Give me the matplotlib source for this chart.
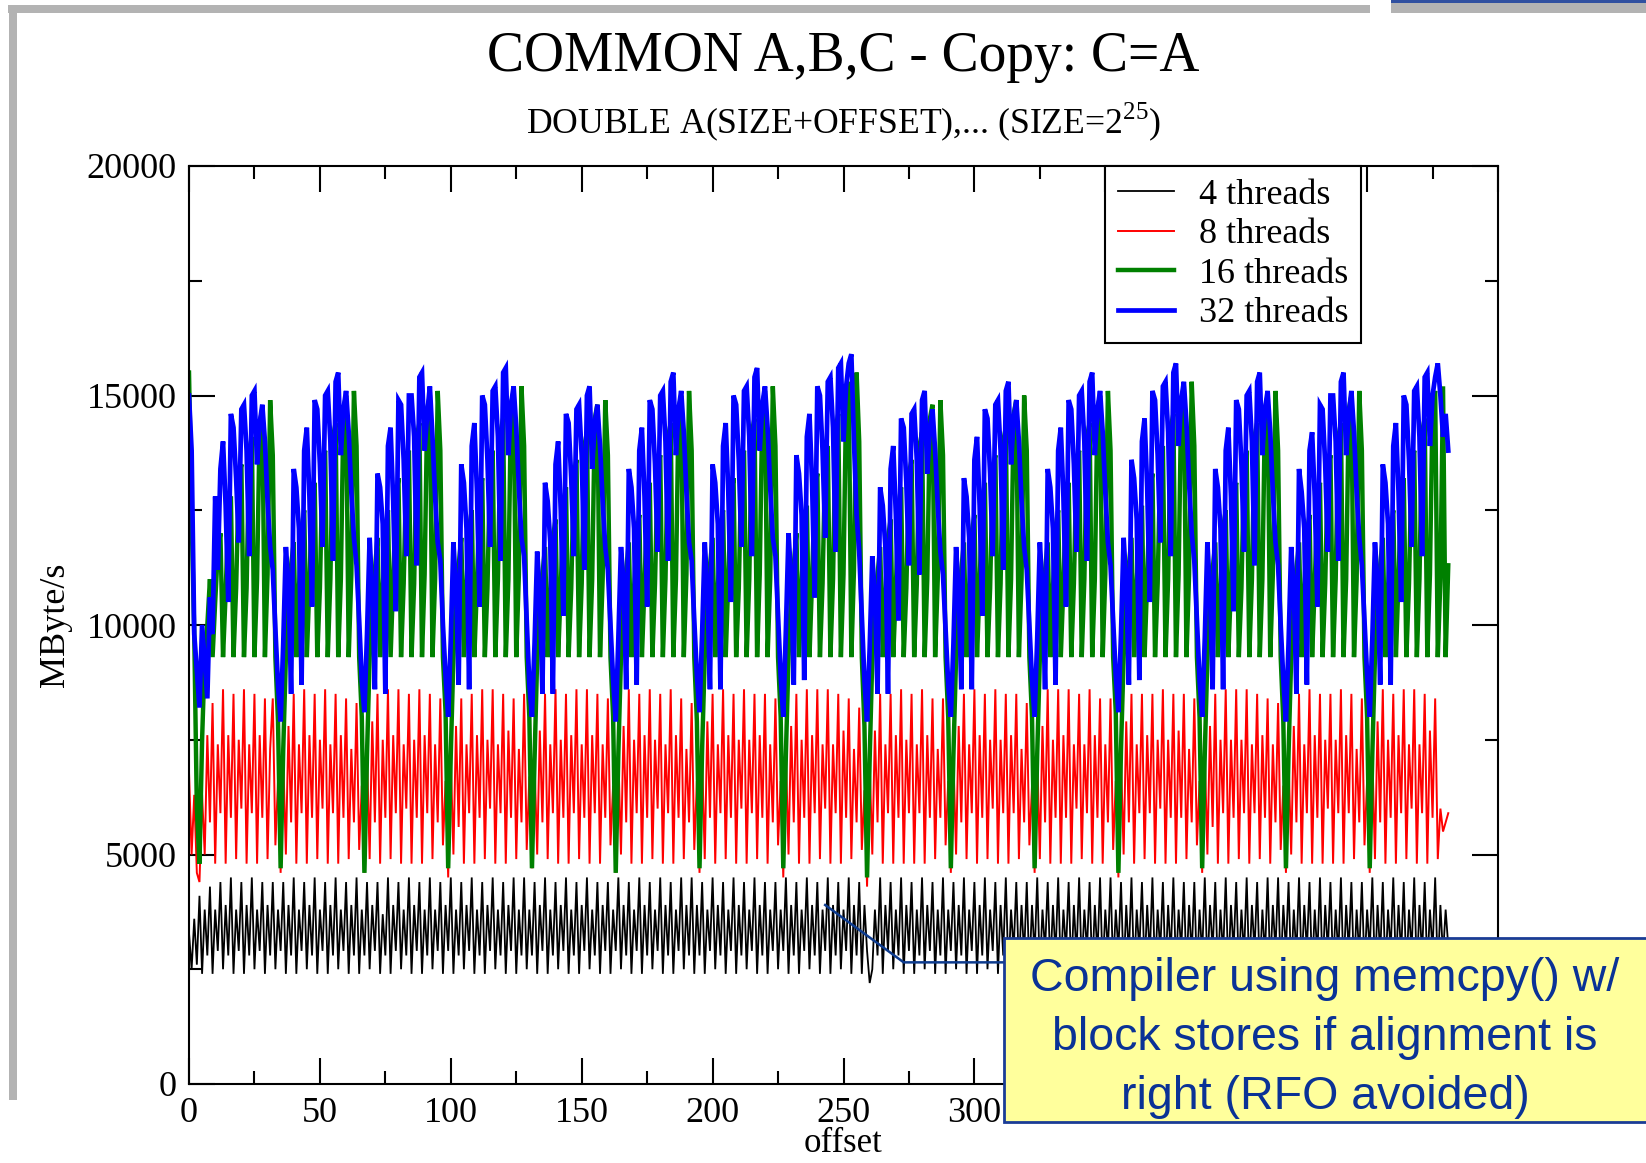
import numpy as np
import matplotlib
matplotlib.use('Agg')
import matplotlib.pyplot as plt
from matplotlib.patches import Rectangle
from matplotlib.ticker import MultipleLocator

# Bandwidth, in units of 100 MByte/s.
# One row = 32 consecutive offsets (offset 0 .. 481)
bw_4threads = [
    [33, 25, 36, 26, 41, 24, 38, 28, 43, 24, 38, 29, 44, 25, 39, 28, 45, 24, 38, 29, 44, 24, 39, 28, 45, 25, 38, 29, 44, 24, 39, 28],
    [44, 25, 38, 29, 44, 24, 39, 28, 45, 24, 38, 29, 44, 25, 39, 28, 45, 24, 38, 29, 44, 24, 39, 28, 45, 25, 38, 29, 44, 24, 39, 28],
    [45, 24, 38, 28, 44, 25, 39, 29, 44, 24, 37, 28, 45, 24, 39, 29, 44, 25, 38, 28, 45, 24, 39, 29, 44, 24, 38, 28, 45, 25, 38, 29],
    [44, 24, 39, 29, 45, 24, 38, 28, 44, 25, 39, 29, 45, 24, 38, 28, 44, 24, 39, 29, 45, 25, 38, 28, 44, 24, 39, 29, 45, 24, 38, 28],
    [45, 25, 38, 28, 44, 24, 39, 29, 45, 24, 38, 28, 44, 25, 39, 29, 45, 24, 38, 28, 44, 24, 39, 29, 45, 25, 38, 28, 44, 24, 39, 29],
    [44, 24, 38, 29, 45, 25, 39, 28, 44, 24, 38, 29, 45, 24, 39, 28, 44, 25, 38, 29, 45, 24, 39, 28, 44, 24, 38, 29, 45, 25, 39, 28],
    [45, 24, 39, 28, 44, 24, 38, 29, 45, 25, 39, 28, 44, 24, 38, 29, 45, 24, 39, 28, 44, 25, 38, 29, 45, 24, 39, 28, 44, 24, 38, 29],
    [44, 25, 38, 29, 45, 24, 39, 28, 44, 24, 38, 29, 45, 25, 39, 28, 44, 24, 38, 29, 45, 24, 39, 28, 44, 25, 38, 29, 45, 24, 39, 28],
    [44, 24, 39, 29, 22, 25, 38, 28, 45, 24, 39, 29, 44, 25, 38, 28, 45, 24, 39, 29, 44, 24, 38, 28, 45, 25, 39, 29, 44, 24, 38, 28],
    [45, 24, 38, 29, 44, 25, 39, 28, 45, 24, 38, 29, 44, 24, 39, 28, 45, 25, 38, 29, 44, 24, 39, 28, 45, 24, 38, 29, 44, 25, 39, 28],
    [44, 24, 39, 28, 45, 24, 38, 29, 44, 25, 39, 28, 45, 24, 38, 29, 44, 24, 39, 28, 45, 25, 38, 29, 44, 24, 39, 28, 45, 24, 38, 29],
    [45, 25, 38, 29, 44, 24, 39, 28, 45, 24, 38, 29, 44, 25, 39, 28, 45, 24, 38, 29, 44, 24, 39, 28, 45, 25, 38, 29, 44, 24, 39, 28],
    [44, 24, 38, 28, 45, 25, 39, 29, 44, 24, 38, 28, 45, 24, 39, 29, 44, 25, 38, 28, 45, 24, 39, 29, 44, 24, 38, 28, 45, 25, 39, 29],
    [45, 24, 39, 29, 44, 24, 38, 28, 45, 25, 39, 29, 44, 24, 38, 28, 45, 24, 39, 29, 44, 25, 38, 28, 45, 24, 39, 29, 44, 24, 38, 28],
    [44, 25, 38, 29, 45, 24, 39, 28, 44, 24, 38, 29, 45, 25, 39, 28, 44, 24, 38, 29, 45, 24, 39, 28, 44, 25, 38, 29, 45, 24, 39, 28],
    [38, 30],
]

bw_8threads = [
    [68, 50, 63, 46, 44, 63, 50, 76, 57, 83, 48, 74, 59, 86, 48, 76, 58, 85, 49, 75, 60, 86, 48, 74, 59, 85, 48, 76, 58, 84, 49, 73],
    [84, 52, 66, 46, 71, 50, 78, 57, 85, 48, 74, 59, 86, 48, 76, 58, 85, 49, 75, 60, 86, 48, 74, 59, 85, 48, 76, 58, 84, 49, 73, 57],
    [83, 51, 65, 46, 72, 49, 79, 57, 85, 48, 75, 58, 86, 49, 76, 59, 86, 48, 74, 60, 85, 48, 75, 58, 86, 48, 76, 59, 85, 49, 74, 57],
    [84, 52, 66, 45, 71, 50, 78, 56, 84, 48, 74, 59, 85, 48, 76, 58, 86, 49, 75, 60, 86, 48, 74, 59, 85, 48, 77, 58, 84, 49, 73, 57],
    [85, 51, 67, 47, 70, 50, 77, 57, 85, 49, 74, 59, 86, 48, 75, 58, 85, 48, 76, 59, 86, 49, 74, 58, 86, 48, 76, 59, 85, 48, 74, 58],
    [84, 52, 65, 46, 72, 50, 78, 57, 86, 48, 75, 59, 85, 48, 76, 58, 86, 49, 75, 60, 85, 48, 74, 59, 86, 48, 76, 58, 84, 49, 73, 57],
    [83, 51, 66, 46, 71, 49, 79, 58, 85, 48, 74, 59, 86, 49, 76, 58, 85, 48, 75, 60, 86, 48, 75, 59, 85, 49, 76, 58, 85, 48, 74, 57],
    [84, 52, 66, 45, 72, 50, 78, 57, 85, 48, 75, 58, 86, 48, 76, 59, 86, 49, 74, 60, 86, 48, 74, 59, 85, 48, 77, 58, 84, 49, 73, 57],
    [82, 51, 64, 43, 70, 50, 77, 57, 85, 48, 74, 59, 85, 48, 76, 58, 86, 48, 75, 59, 85, 48, 74, 59, 86, 48, 76, 58, 84, 49, 73, 58],
    [84, 52, 66, 46, 71, 50, 78, 57, 85, 49, 74, 59, 86, 48, 76, 58, 85, 49, 75, 60, 86, 48, 75, 59, 85, 48, 76, 59, 85, 49, 73, 57],
    [83, 52, 65, 46, 72, 49, 78, 57, 86, 48, 75, 58, 86, 48, 76, 58, 86, 48, 74, 60, 85, 49, 74, 59, 86, 48, 76, 58, 84, 48, 74, 57],
    [84, 51, 66, 45, 71, 50, 79, 57, 85, 48, 74, 59, 85, 49, 76, 59, 85, 48, 75, 60, 86, 48, 75, 58, 85, 48, 77, 58, 85, 49, 73, 57],
    [84, 52, 66, 46, 72, 50, 78, 56, 85, 48, 75, 59, 86, 48, 75, 58, 86, 49, 75, 59, 86, 48, 74, 59, 85, 49, 76, 58, 84, 48, 74, 57],
    [83, 51, 65, 46, 71, 50, 78, 57, 85, 48, 74, 59, 86, 48, 76, 58, 85, 48, 75, 60, 85, 48, 75, 59, 86, 48, 76, 59, 85, 49, 73, 57],
    [84, 52, 66, 46, 72, 49, 79, 57, 86, 48, 75, 58, 85, 48, 76, 59, 86, 49, 74, 60, 86, 48, 74, 59, 85, 48, 77, 58, 84, 49, 60, 55],
    [57, 59],
]

bw_16threads = [
    [155, 124, 98, 60, 48, 75, 93, 100, 110, 93, 105, 116, 120, 93, 107, 124, 128, 93, 108, 132, 135, 93, 108, 138, 141, 93, 110, 144, 147, 93, 111, 149],
    [137, 93, 79, 47, 73, 93, 106, 113, 118, 93, 108, 121, 125, 93, 109, 128, 131, 93, 108, 135, 138, 93, 110, 141, 144, 93, 110, 147, 150, 93, 111, 151],
    [139, 93, 80, 46, 72, 93, 107, 112, 119, 93, 108, 120, 125, 93, 110, 127, 132, 93, 109, 134, 138, 93, 109, 141, 144, 93, 111, 147, 150, 93, 110, 151],
    [138, 93, 81, 47, 72, 93, 106, 113, 119, 93, 109, 121, 125, 93, 109, 128, 132, 93, 108, 135, 138, 93, 110, 142, 145, 93, 110, 148, 151, 93, 111, 152],
    [139, 93, 80, 47, 71, 93, 105, 111, 117, 93, 107, 119, 123, 93, 108, 126, 130, 93, 108, 133, 136, 93, 109, 139, 142, 93, 110, 145, 148, 93, 110, 149],
    [137, 93, 80, 46, 72, 93, 106, 112, 118, 93, 108, 120, 124, 93, 109, 127, 131, 93, 109, 134, 137, 93, 110, 141, 144, 93, 110, 147, 150, 93, 111, 151],
    [138, 93, 79, 47, 73, 93, 107, 113, 119, 93, 108, 121, 125, 93, 110, 128, 132, 93, 108, 135, 138, 93, 110, 142, 145, 93, 111, 148, 151, 93, 110, 152],
    [139, 93, 80, 47, 72, 93, 107, 113, 120, 93, 109, 122, 126, 93, 110, 129, 133, 93, 109, 136, 139, 93, 110, 143, 146, 93, 111, 149, 153, 93, 112, 155],
    [140, 93, 78, 45, 71, 93, 105, 111, 117, 93, 107, 119, 123, 93, 108, 126, 130, 93, 108, 133, 136, 93, 109, 139, 142, 93, 110, 145, 148, 93, 110, 149],
    [137, 93, 80, 47, 72, 93, 106, 112, 118, 93, 108, 120, 124, 93, 109, 127, 131, 93, 108, 134, 137, 93, 109, 140, 143, 93, 110, 146, 149, 93, 110, 150],
    [138, 93, 80, 47, 72, 93, 106, 112, 118, 93, 108, 121, 125, 93, 109, 128, 131, 93, 109, 135, 138, 93, 110, 141, 144, 93, 110, 147, 150, 93, 111, 151],
    [138, 93, 81, 46, 73, 93, 107, 113, 119, 93, 109, 122, 126, 93, 110, 129, 133, 93, 109, 136, 139, 93, 110, 143, 146, 93, 111, 149, 152, 93, 111, 153],
    [139, 93, 80, 47, 72, 93, 106, 112, 118, 93, 108, 121, 125, 93, 109, 128, 131, 93, 108, 135, 138, 93, 110, 141, 144, 93, 110, 147, 150, 93, 111, 151],
    [138, 93, 79, 47, 72, 93, 106, 112, 118, 93, 108, 120, 124, 93, 109, 127, 131, 93, 109, 134, 137, 93, 110, 141, 144, 93, 110, 147, 150, 93, 110, 151],
    [138, 93, 80, 47, 72, 93, 106, 113, 119, 93, 108, 121, 125, 93, 110, 128, 132, 93, 109, 135, 138, 93, 110, 142, 145, 93, 111, 148, 151, 93, 110, 152],
    [93, 113],
]

bw_32threads = [
    [150, 138, 98, 90, 82, 100, 92, 84, 106, 98, 128, 112, 134, 140, 126, 105, 146, 143, 132, 118, 147, 148, 138, 115, 150, 151, 135, 144, 148, 140, 127, 117],
    [112, 99, 87, 79, 96, 117, 109, 85, 134, 130, 121, 87, 138, 143, 128, 104, 149, 147, 135, 117, 150, 151, 140, 114, 153, 155, 137, 147, 151, 142, 129, 119],
    [113, 101, 88, 81, 98, 119, 107, 86, 133, 130, 122, 85, 139, 143, 127, 103, 149, 148, 136, 115, 150, 150, 141, 113, 154, 155, 138, 146, 152, 141, 128, 118],
    [114, 100, 89, 80, 97, 118, 108, 87, 135, 131, 121, 86, 139, 144, 129, 104, 150, 148, 136, 117, 151, 152, 141, 114, 155, 156, 137, 148, 152, 143, 130, 119],
    [115, 101, 87, 80, 96, 116, 107, 85, 131, 127, 118, 85, 135, 140, 125, 102, 146, 144, 132, 115, 147, 148, 137, 112, 150, 152, 134, 144, 148, 139, 127, 117],
    [112, 100, 88, 79, 97, 117, 109, 86, 134, 130, 121, 87, 138, 143, 128, 104, 149, 147, 135, 116, 150, 151, 140, 114, 153, 155, 137, 147, 151, 142, 129, 118],
    [114, 101, 89, 81, 98, 118, 108, 86, 135, 131, 122, 86, 139, 144, 129, 105, 150, 148, 136, 117, 151, 152, 141, 115, 154, 156, 138, 148, 152, 143, 130, 119],
    [115, 102, 89, 80, 99, 120, 110, 87, 137, 133, 124, 88, 141, 146, 131, 106, 152, 150, 138, 119, 153, 154, 143, 116, 156, 157, 140, 152, 157, 159, 140, 124],
    [116, 102, 88, 79, 95, 115, 106, 85, 130, 126, 117, 85, 134, 139, 124, 101, 145, 143, 131, 113, 146, 147, 136, 111, 149, 151, 133, 143, 147, 138, 126, 116],
    [111, 99, 87, 80, 96, 117, 107, 86, 132, 128, 119, 86, 136, 141, 126, 102, 147, 145, 133, 115, 148, 149, 138, 112, 151, 153, 135, 145, 149, 140, 127, 117],
    [112, 100, 88, 80, 97, 118, 108, 86, 134, 130, 121, 87, 138, 143, 128, 104, 149, 147, 135, 116, 150, 151, 140, 114, 153, 155, 137, 147, 151, 142, 129, 118],
    [113, 101, 89, 81, 98, 119, 109, 87, 136, 132, 123, 88, 140, 145, 130, 105, 151, 149, 137, 118, 152, 153, 142, 115, 155, 157, 139, 149, 153, 144, 131, 120],
    [114, 101, 88, 80, 97, 118, 107, 86, 134, 130, 121, 86, 138, 143, 128, 103, 149, 147, 135, 116, 150, 151, 140, 113, 153, 155, 137, 147, 151, 142, 129, 118],
    [113, 100, 88, 79, 96, 117, 108, 85, 134, 129, 121, 87, 138, 142, 128, 104, 148, 147, 135, 116, 150, 150, 140, 114, 153, 155, 137, 146, 151, 142, 129, 119],
    [113, 101, 89, 80, 97, 118, 109, 87, 135, 131, 122, 87, 139, 144, 129, 105, 150, 148, 136, 117, 151, 152, 141, 115, 154, 155, 139, 150, 154, 157, 150, 141],
    [146, 138],
]

series_labels = ['4 threads', '8 threads', '16 threads', '32 threads']
series_colors = ['black', '#ff0000', '#008000', '#0000ff']
series_widths = [1.3, 1.4, 3.2, 3.4]

x_ticks = [0, 50, 100, 150, 200, 250, 300, 350, 400, 450, 500]
# labels from 350 on sit under the call-out box in the original slide
x_ticklabels = ['0', '50', '100', '150', '200', '250', '300', '', '', '', '']


def flatten(rows):
    return np.array([v for row in rows for v in row], dtype=float) * 100


def main():
    plt.rcParams['font.family'] = ['Liberation Serif', 'DejaVu Serif']
    plt.rcParams['mathtext.fontset'] = 'custom'
    plt.rcParams['mathtext.rm'] = 'Liberation Serif'

    W, H = 1646, 1163
    fig = plt.figure(figsize=(W / 100, H / 100), dpi=100)
    fig.patch.set_facecolor('white')

    # slide decoration (grey bars)
    grey = '#b3b3b3'
    fig.add_artist(Rectangle((8 / W, 1 - 13 / H), (1370 - 8) / W, 8 / H, transform=fig.transFigure, color=grey, lw=0))
    fig.add_artist(Rectangle((9 / W, 1 - 1100 / H), 8 / W, 1090 / H, transform=fig.transFigure, color=grey, lw=0))
    fig.add_artist(Rectangle((1391 / W, 1 - 13 / H), (W - 1391) / W, 13 / H, transform=fig.transFigure, color=grey, lw=0))
    fig.add_artist(Rectangle((1391 / W, 1 - 3 / H), (W - 1391) / W, 3 / H, transform=fig.transFigure, color='#3050a0', lw=0))

    ax = fig.add_axes([189 / W, 1 - 1084 / H, (1498 - 189) / W, (1084 - 166) / H])

    all_series = [bw_4threads, bw_8threads, bw_16threads, bw_32threads]
    for rows, lab, col, lw in zip(all_series, series_labels, series_colors, series_widths):
        y = flatten(rows)
        x = np.arange(len(y))
        ax.plot(x, y, color=col, lw=lw, label=lab, solid_joinstyle='miter')

    ax.set_xlim(0, 500)
    ax.set_ylim(0, 20000)
    ax.set_xticks(x_ticks)
    ax.set_xticklabels(x_ticklabels)
    ax.xaxis.set_minor_locator(MultipleLocator(25))
    ax.yaxis.set_major_locator(MultipleLocator(5000))
    ax.yaxis.set_minor_locator(MultipleLocator(2500))
    ax.tick_params(which='both', direction='in', top=True, right=True, width=1.5, labelsize=26)
    ax.tick_params(which='major', length=19)
    ax.tick_params(which='minor', length=9.5)
    ax.tick_params(axis='x', pad=9)
    ax.tick_params(axis='y', pad=9)
    for s in ax.spines.values():
        s.set_linewidth(1.5)

    ax.set_xlabel('offset', fontsize=25, labelpad=-2)
    ax.set_ylabel('MByte/s', fontsize=26, labelpad=10)

    leg = ax.legend(loc='upper left', bbox_to_anchor=(0.70, 1.0), borderaxespad=0,
                    fontsize=26, fancybox=False, edgecolor='black', framealpha=1,
                    handlelength=1.55, handletextpad=0.7, labelspacing=0.17, borderpad=0.35)
    leg.get_frame().set_linewidth(1.5)

    # titles
    fig.text(843 / W, 1 - 57 / H, 'COMMON A,B,C - Copy: C=A', ha='center', va='center', fontsize=40)
    fig.text(843 / W, 1 - 122 / H, r'DOUBLE A(SIZE+OFFSET),... (SIZE=2$^{\mathregular{25}}$)',
             ha='center', va='center', fontsize=25.7)

    # call-out box with leader line
    navy = '#0d3b8e'
    ax.plot([243, 273, 311], [3900, 2650, 2650], color=navy, lw=1.8, zorder=10, clip_on=False)
    fig.add_artist(Rectangle((1004 / W, 1 - 1122 / H), 0.5, (1122 - 938) / H, transform=fig.transFigure,
                             facecolor='#ffff9c', edgecolor='#1a3c96', lw=2, zorder=5))
    fig.text(1325 / W, 1 - 1038 / H, 'Compiler using memcpy() w/\nblock stores if alignment is\nright (RFO avoided)',
             ha='center', va='center', fontsize=33.5, family='Liberation Sans', color='#0a3296',
             linespacing=1.45, zorder=6)

    fig.savefig('out.png', dpi=100)


if __name__ == '__main__':
    main()
